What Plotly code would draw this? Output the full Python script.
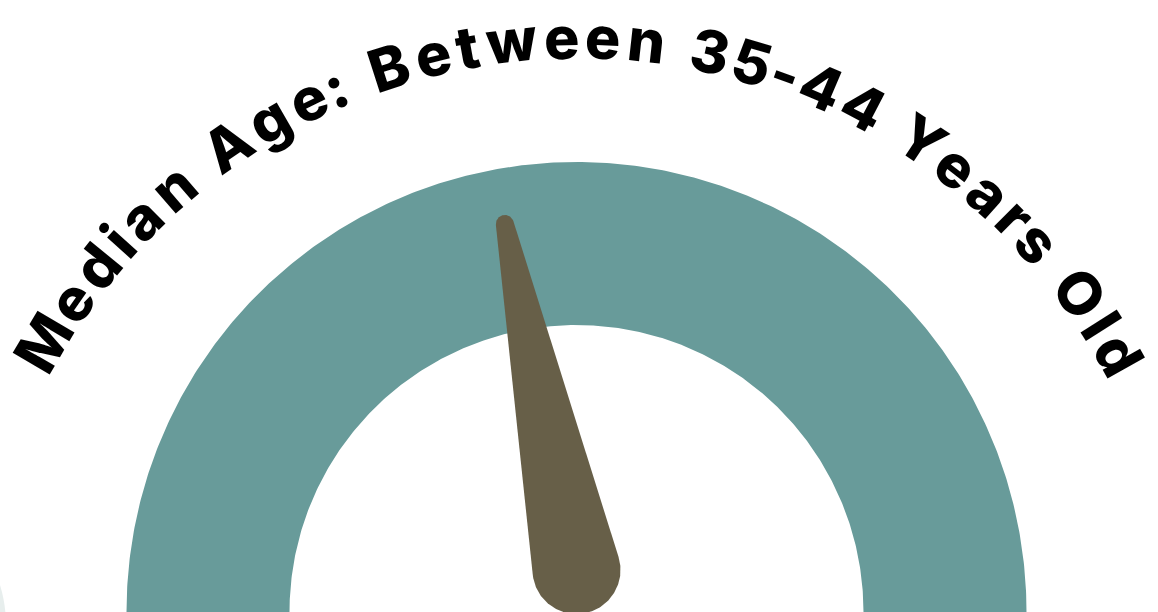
import numpy as np
import plotly.graph_objects as go

# ---------------- data ----------------
GAUGE_MIN = 0
GAUGE_MAX = 100
NEEDLE_VALUE = 43.5
TITLE_TEXT = "Median Age: Between 35-44 Years Old"

# ---------------- style / layout constants ----------------
W, H = 1158, 612
TEAL = "#689B9A"
NEEDLE = "#675F48"
FAINT = "#E7EEED"

CX, CY = 576.5, 0.0          # gauge centre (pixel-like data units, y up)
R_OUT, R_IN = 450, 287

NEEDLE_BASE_OFF = 42         # base circle centre above gauge centre
NEEDLE_LEN = 353.4
R_BASE, R_TIP = 44, 9

TXT_CX, TXT_CY = 578.0, -45.0
TXT_R = 598.0                # baseline radius
TXT_START, TXT_END = 152.0, 27.3
FS = 59

# approximate advance widths (em) for a geometric bold sans
WID = {"M": .87, "e": .61, "d": .68, "i": .29, "a": .62, "n": .68, " ": .27,
       "A": .76, "g": .68, ":": .27, "B": .75, "t": .42, "w": .90, "3": .63,
       "5": .63, "-": .40, "4": .70, "Y": .68, "r": .43, "s": .52, "O": .83,
       "l": .29}


def val2ang(v):
    return np.pi * (1 - (v - GAUGE_MIN) / (GAUGE_MAX - GAUGE_MIN))


fig = go.Figure()

# gauge band
t = np.linspace(val2ang(GAUGE_MIN), val2ang(GAUGE_MAX), 400)
gx = np.concatenate([CX + R_OUT * np.cos(t), CX + R_IN * np.cos(t[::-1])])
gy = np.concatenate([CY + R_OUT * np.sin(t), CY + R_IN * np.sin(t[::-1])])
fig.add_trace(go.Scatter(x=gx, y=gy, fill="toself", fillcolor=TEAL,
                         line=dict(width=0, color=TEAL), mode="lines",
                         hoverinfo="skip"))

# needle
phi = val2ang(NEEDLE_VALUE)
c1 = np.array([CX, CY + NEEDLE_BASE_OFF])
c2 = c1 + NEEDLE_LEN * np.array([np.cos(phi), np.sin(phi)])
beta = np.arccos((R_BASE - R_TIP) / NEEDLE_LEN)
a_tip = np.linspace(phi + beta, phi - beta, 60)
a_base = np.linspace(phi - beta, phi + beta - 2 * np.pi, 120)
nx = np.concatenate([c2[0] + R_TIP * np.cos(a_tip), c1[0] + R_BASE * np.cos(a_base)])
ny = np.concatenate([c2[1] + R_TIP * np.sin(a_tip), c1[1] + R_BASE * np.sin(a_base)])
fig.add_trace(go.Scatter(x=nx, y=ny, fill="toself", fillcolor=NEEDLE,
                         line=dict(width=0, color=NEEDLE), mode="lines",
                         hoverinfo="skip"))

# curved title: one annotation per character
chars = list(TITLE_TEXT)
widths = np.array([WID.get(c, .6) for c in chars])
arc_len = np.deg2rad(TXT_START - TXT_END) * TXT_R
track = (arc_len - widths.sum() * FS) / (len(chars) - 1)
cum = np.concatenate([[0], np.cumsum(widths)[:-1]])
annotations = []
for i, ch in enumerate(chars):
    if ch == " ":
        continue
    s = cum[i] * FS + i * track + widths[i] * FS / 2
    ang = np.deg2rad(TXT_START) - s / TXT_R
    rr = TXT_R + 0.37 * FS
    annotations.append(dict(
        x=TXT_CX + rr * np.cos(ang), y=TXT_CY + rr * np.sin(ang),
        xref="x", yref="y", text=ch, showarrow=False,
        textangle=90 - np.rad2deg(ang), xanchor="center", yanchor="middle",
        font=dict(family="Inter", size=FS, color="#000000", weight=800)))

fig.update_layout(
    width=W, height=H, margin=dict(l=0, r=0, t=0, b=0),
    paper_bgcolor="white", plot_bgcolor="white", showlegend=False,
    xaxis=dict(range=[0, W], visible=False, fixedrange=True),
    yaxis=dict(range=[0, H], visible=False, fixedrange=True),
    annotations=annotations,
    shapes=[dict(type="circle", xref="x", yref="y", layer="below",
                 x0=-130 - 136, x1=-130 + 136, y0=-13 - 136, y1=-13 + 136,
                 fillcolor=FAINT, line=dict(width=0))],
)

fig.write_html("out.html", config={"displayModeBar": False})
